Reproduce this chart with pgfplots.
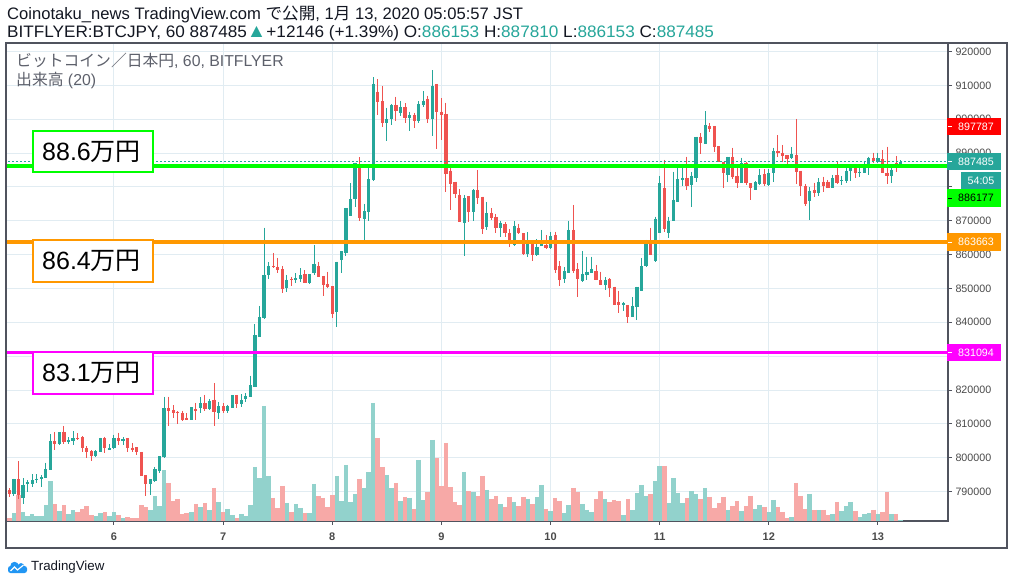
\documentclass[border=0pt]{standalone}
\usepackage{pgfplots}
\pgfplotsset{compat=1.18}
\usepackage{pgfplotstable}
\usepackage{graphicx}
\usepackage{fontspec}
\setmainfont{Liberation Sans}
\newfontfamily\jp{Noto Sans CJK JP}
\definecolor{upc}{HTML}{26A69A}
\definecolor{dnc}{HTML}{EF5350}
\definecolor{upv}{HTML}{92D2CC}
\definecolor{dnv}{HTML}{F7A9A7}
\definecolor{gridc}{HTML}{E1ECF2}
\definecolor{framec}{HTML}{50535E}
\definecolor{tickc}{HTML}{4A4A4A}
\definecolor{txt}{HTML}{131722}
\definecolor{legc}{HTML}{5D606B}
\definecolor{limeg}{HTML}{00FF00}
\definecolor{orng}{HTML}{FF9800}
\definecolor{mag}{HTML}{FF00FF}
\definecolor{redl}{HTML}{FF0000}
\definecolor{tvblue}{HTML}{2196F3}
\pgfplotstableread{
i O H L C V
0 790450 791050 788480 789170 2.7
1 789170 793800 788780 793610 7.7
2 793610 799030 787700 788980 25.7
3 788190 793900 786320 791930 8.7
4 792130 793410 789960 792720 4.7
5 792230 795180 791250 793410 6.7
6 793610 795080 792430 793810 4.7
7 793610 794790 791440 794200 4.7
8 794100 798530 793900 796560 15.7
9 796360 807000 796360 804930 39.7
10 804930 807590 802280 804150 16.7
11 804150 807490 803850 807490 9.7
12 807590 809370 803950 804740 15.7
13 804640 806020 804050 805240 6.7
14 805040 807790 803850 805820 10.7
15 805720 807300 805230 805520 8.7
16 806120 806410 801590 802970 11.7
17 802770 803460 800010 801780 14.7
18 801980 802280 799130 800600 5.7
19 800600 802280 800310 801980 4.7
20 801780 805920 801590 805820 7.7
21 805820 806220 801290 802970 8.7
22 802380 804050 802280 802870 4.7
23 802770 806810 802570 805820 8.7
24 805820 807400 803750 805040 5.7
25 805040 806020 803750 805520 2.7
26 805820 805820 801590 802970 3.7
27 802970 804250 801780 802280 2.7
28 803160 803160 800800 801590 2.7
29 801690 801690 794690 794690 15.7
30 794890 794890 788780 792230 13.7
31 792230 793610 788980 793610 10.7
32 793110 797150 792920 796660 24.7
33 796070 800500 795580 800500 14.7
34 800300 818000 799820 814590 50.7
35 814590 818030 809270 813800 38
36 814100 815480 811740 813310 20
37 813510 813800 809960 813110 22
38 813210 813900 810750 811240 7
39 811740 813210 811150 811240 8
40 811240 814890 811150 814890 9
41 814390 816170 811240 813900 17
42 814690 817840 813210 816170 14
43 816170 818530 813900 814490 18
44 814390 817350 814100 816660 11
45 817150 822070 809370 813510 33
46 813210 816460 811540 815180 19
47 815180 816070 813210 813710 9
48 813900 815670 813210 815280 12
49 814690 818530 814590 818530 6
50 818530 818530 814690 815870 3
51 815870 818720 815080 816960 7
52 817350 819020 816360 818240 5
53 818040 824240 818040 821480 16
54 820990 839500 820790 836250 54
55 835660 844820 835660 841570 43
56 841180 867960 840980 853980 115
57 853980 857820 852800 856640 45
58 856640 860480 855950 856240 23
59 856340 859000 854470 855450 13
60 855650 856640 848560 849840 35
61 850130 853980 848860 852500 18
62 852890 853480 850820 852600 9
63 852600 854470 851710 852990 17
64 852800 855950 852010 853970 13
65 854270 855450 851510 851510 8
66 851510 854270 851320 854270 8
67 854470 862840 853970 857220 37
68 856630 857910 853480 853480 25
69 853680 853680 847870 851020 23
70 851320 854960 850130 850430 14
71 850720 850720 841170 842460 26
72 843140 857920 838720 857920 45
73 858410 860970 854470 860970 20
74 860580 873770 859590 873770 56
75 871400 881060 871400 876530 19
76 876530 887160 874170 886960 27
77 886180 888730 870030 870820 42
78 870620 874950 864320 872880 33
79 872680 885680 870030 882330 49
80 882040 912370 881840 910400 118
81 908140 911780 901240 905180 83
82 905280 909810 897800 898780 54
83 898780 903410 893660 899960 46
84 899960 904490 898280 904200 33
85 904200 906660 899470 902420 38
86 901930 905380 900950 903610 20
87 903610 904690 898980 900450 24
88 900450 902230 896610 901240 23
89 901240 901930 897500 899570 12
90 899570 905280 898980 904490 61
91 904300 908230 903700 905380 21
92 905970 906950 898780 900160 29
93 900160 914530 895140 909810 81
94 910400 910400 891300 902030 63
95 902230 906260 893960 901340 35
96 901540 904880 878590 883910 78
97 884800 885480 873280 880760 34
98 881550 881550 876620 878000 19
99 877610 879280 869630 869630 16
100 869440 877610 859690 876620 49
101 877310 877310 869730 872590 30
102 872590 879280 870030 879090 29
103 879090 884990 874950 876820 25
104 877120 877120 866090 867560 45
105 868060 875540 867270 872200 31
106 872200 873670 870220 870820 22
107 871110 872000 866290 867960 25
108 867760 869930 865300 869340 17
109 869040 869630 865300 866290 14
110 866430 867460 862350 863720 24
111 862840 869930 862640 868550 19
112 867960 869140 865990 866290 15
113 866380 866380 859880 860180 24
114 860180 866580 859390 863130 22
115 863130 863130 858110 859790 17
116 859890 864520 859690 862150 24
117 862640 867270 862540 863040 36
118 862840 865790 861660 861850 12
119 861850 866580 861560 865500 10
120 865790 866780 854470 855450 23
121 856640 858110 850730 852500 20
122 852700 856240 851510 855160 8
123 854670 869930 854670 867270 16
124 867270 874660 854670 855160 33
125 855750 857420 847380 852700 29
126 852310 861070 852010 854310 17
127 854010 859400 852500 855000 11
128 854670 859400 854470 855750 9
129 855260 856930 852500 852500 22
130 852500 854960 851020 851020 30
131 851020 853290 849540 852500 22
132 852800 852990 847580 850230 19
133 850530 850530 845120 845120 21
134 846000 849350 842650 845120 20
135 845120 846100 843440 845610 6
136 845120 845120 839890 841470 22
137 841470 847380 841470 844820 11
138 844620 850530 840680 850530 28
139 849250 858900 849250 856640 36
140 856640 864320 856440 863330 25
141 863330 867960 859790 859790 27
142 858110 871210 857920 870520 40
143 866280 883220 866280 881150 55
144 879580 887950 866780 867560 55
145 866280 871210 865010 869930 18
146 869930 884500 869930 876130 43
147 875640 886180 875440 882340 28
148 882040 885490 880370 882730 18
149 882730 888930 879090 880370 23
150 880570 884500 874160 883320 30
151 882730 894840 881350 894840 27
152 894840 895830 889620 893070 22
153 892580 902420 892580 898290 33
154 897990 898780 896320 897010 24
155 897990 897990 890410 891890 13
156 892080 892080 887260 887260 18
157 887260 887260 879580 884010 24
158 883520 888930 881550 888930 11
159 888930 891590 882340 883030 15
160 883320 885490 879580 881050 20
161 881050 888640 881050 886970 10
162 887160 887460 880570 881050 15
163 881050 881050 876130 879780 25
164 879090 881750 879090 881350 12
165 880860 885290 880570 883520 16
166 883810 885290 880270 880860 14
167 880570 885290 880370 884010 9
168 884200 891590 881550 890610 21
169 890610 895330 888930 889920 14
170 890120 892380 887460 889130 9
171 889420 889420 886470 888240 3
172 888440 891690 888150 889720 4
173 889420 900060 880860 884500 38
174 884800 884800 877310 880270 25
175 880270 880860 874360 874950 12
176 875930 879870 870230 878790 27
177 879090 881250 877120 878300 11
178 878100 882530 877310 881550 11
179 881550 883030 878590 880270 11
180 881550 882040 879780 879780 6
181 879780 883520 879780 882530 7
182 883520 887460 880860 881250 19
183 881750 883220 880560 882040 10
184 881750 886180 881250 884800 15
185 884800 886470 881840 885780 19
186 885490 886180 882530 884200 10
187 884500 885780 883030 884510 4
188 884200 887750 884010 885980 7
189 885490 888930 883520 888640 8
190 888640 890120 886960 887660 11
191 887460 890120 886960 888440 7
192 888240 890900 884010 884010 9
193 884200 891890 880860 883320 29
194 883320 885780 881250 884990 7
195 886960 889130 884500 885490 7
196 886153 887810 886153 887485 1
}\data
\pgfplotsset{
  cbar/.style 2 args={draw=none, mark=none, forget plot,
    error bars/.cd, y dir=minus, y explicit, error mark=none,
    error bar style={line width=#1, draw=#2}},
}
\begin{document}
\begin{tikzpicture}
\path[use as bounding box] (0,0) rectangle (1014pt,586pt);
\fill[white] (0,0) rectangle (1014pt,586pt);
\begin{axis}[
  at={(6pt,65pt)}, anchor=south west, scale only axis,
  width=942pt, height=478pt,
  xmin=-0.748, xmax=206.4, ymin=781309, ymax=922511,
  scaled y ticks=false, scaled x ticks=false,
  axis line style={draw=framec, line width=1.5pt},
  xtick={23,47,71,95,119,143,167,191},
  xticklabels={6,7,8,9,10,11,12,13},
  ytick={790000,800000,810000,820000,830000,840000,850000,860000,870000,880000,890000,900000,910000,920000},
  yticklabels={790000,800000,810000,820000,,840000,850000,860000,870000,,890000,900000,910000,920000},
  xtick pos=bottom, ytick pos=right, yticklabel pos=right,
  tick align=outside, major tick length=4pt,
  tick style={draw=framec, line width=1pt},
  grid=major, major grid style={draw=gridc, line width=1pt},
  yticklabel style={font=\fontsize{10.7}{12}\selectfont, text=tickc},
  xticklabel style={font=\fontsize{11}{12}\selectfont\bfseries, text=tickc, yshift=-4pt},
]
% volume
\addplot[cbar={4.55pt}{upv}] table[x=i,
  y expr={\thisrow{C}>=\thisrow{O} ? 781309+\thisrow{V}*295.4 : 700000},
  y error minus expr={\thisrow{V}*295.4}] {\data};
\addplot[cbar={4.55pt}{dnv}] table[x=i,
  y expr={\thisrow{C}<\thisrow{O} ? 781309+\thisrow{V}*295.4 : 700000},
  y error minus expr={\thisrow{V}*295.4}] {\data};
% wicks
\addplot[cbar={1pt}{upc}] table[x=i,
  y expr={\thisrow{C}>=\thisrow{O} ? \thisrow{H} : 700000},
  y error minus expr={\thisrow{H}-\thisrow{L}}] {\data};
\addplot[cbar={1pt}{dnc}] table[x=i,
  y expr={\thisrow{C}<\thisrow{O} ? \thisrow{H} : 700000},
  y error minus expr={\thisrow{H}-\thisrow{L}}] {\data};
% bodies
\addplot[cbar={3.2pt}{upc}] table[x=i,
  y expr={\thisrow{C}>=\thisrow{O} ? \thisrow{C} : 700000},
  y error minus expr={max(\thisrow{C}-\thisrow{O},300)}] {\data};
\addplot[cbar={3.2pt}{dnc}] table[x=i,
  y expr={\thisrow{C}<\thisrow{O} ? \thisrow{O} : 700000},
  y error minus expr={max(\thisrow{O}-\thisrow{C},300)}] {\data};
% horizontal levels
\addplot[limeg, line width=3.5pt, forget plot] coordinates {(-2,886177) (210,886177)};
\addplot[orng, line width=3.5pt, forget plot] coordinates {(-2,863663) (210,863663)};
\addplot[mag, line width=3.5pt, forget plot] coordinates {(-2,831094) (210,831094)};
\addplot[upc, line width=0.8pt, dash pattern=on 2pt off 2pt, forget plot] coordinates {(-2,887485) (210,887485)};
\end{axis}
\draw[framec, line width=1.5pt] (6pt,38pt) rectangle (1007pt,543pt);
% header
\node[anchor=base west, inner sep=0pt, font=\fontsize{16.6}{18}\selectfont, text=txt] at (7pt,566pt)
  {Coinotaku\_news TradingView.com {\jp で公開}, 1{\jp 月} 13, 2020 05:05:57 JST};
\node[anchor=base west, inner sep=0pt, font=\fontsize{16.6}{18}\selectfont, text=txt] at (7pt,548pt)
  {\scalebox{1.034}[1]{BITFLYER:BTCJPY, 60 887485\textcolor{upc}{\fontsize{19}{19}\selectfont ▲}+12146 (+1.39\%) O:\textcolor{upc}{886153} H:\textcolor{upc}{887810} L:\textcolor{upc}{886153} C:\textcolor{upc}{887485}}};
% legend in chart
\node[anchor=base west, inner sep=0pt, font=\fontsize{15.8}{17}\selectfont, text=legc] at (16pt,519pt)
  {{\jp ビットコイン／日本円}, 60, BITFLYER};
\node[anchor=base west, inner sep=0pt, font=\fontsize{15.8}{17}\selectfont, text=legc] at (16pt,500pt)
  {{\jp 出来高} (20)};
% boxes
\draw[limeg, line width=1.5pt, fill=white] (33pt,414pt) rectangle (153pt,455pt);
\node[anchor=west, inner sep=0pt, font=\fontsize{25}{26}\selectfont, text=black] at (42pt,434.5pt) {88.6{\jp 万円}};
\draw[orng, line width=1.5pt, fill=white] (33pt,304pt) rectangle (153pt,346pt);
\node[anchor=west, inner sep=0pt, font=\fontsize{25}{26}\selectfont, text=black] at (42pt,325pt) {86.4{\jp 万円}};
\draw[mag, line width=1.5pt, fill=white] (33pt,192pt) rectangle (153pt,234pt);
\node[anchor=west, inner sep=0pt, font=\fontsize{25}{26}\selectfont, text=black] at (42pt,213pt) {83.1{\jp 万円}};
% right price labels
\fill[redl] (947pt,450.5pt) rectangle (1001pt,468.1pt);
\node[text=white, font=\fontsize{10.7}{12}\selectfont, inner sep=0pt] at (976pt,459.3pt) {897787};
\fill[upc] (947pt,415.6pt) rectangle (1001pt,433.2pt);
\node[text=white, font=\fontsize{10.7}{12}\selectfont, inner sep=0pt] at (976pt,424.4pt) {887485};
\fill[upc] (961pt,396.7pt) rectangle (1001pt,414.3pt);
\node[text=white, font=\fontsize{10.7}{12}\selectfont, inner sep=0pt] at (981pt,405.5pt) {54:05};
\fill[limeg] (947pt,378.9pt) rectangle (1001pt,396.5pt);
\node[text=black, font=\fontsize{10.7}{12}\selectfont, inner sep=0pt] at (976pt,387.7pt) {886177};
\fill[orng] (947pt,335pt) rectangle (1001pt,352.6pt);
\node[text=white, font=\fontsize{10.7}{12}\selectfont, inner sep=0pt] at (976pt,343.8pt) {863663};
\fill[mag] (947pt,224.7pt) rectangle (1001pt,242.3pt);
\node[text=white, font=\fontsize{10.7}{12}\selectfont, inner sep=0pt] at (976pt,233.5pt) {831094};
\foreach \yy in {459.3,424.4,343.8,233.5} {\draw[white, line width=1pt] (948pt,\yy pt) -- (952pt,\yy pt);}
\draw[black, line width=1pt] (948pt,387.7pt) -- (952pt,387.7pt);
% footer
\fill[tvblue, rounded corners=2.5pt] (8pt,13pt) rectangle (27pt,20pt);
\fill[tvblue] (14.5pt,20pt) circle (4.2pt);
\fill[tvblue] (21pt,19.5pt) circle (3.4pt);
\draw[white, line width=1.1pt] (10.5pt,15pt) -- (14.5pt,19pt) -- (17.5pt,16pt) -- (23.5pt,21pt);
\node[anchor=west, inner sep=0pt, font=\fontsize{13.3}{14}\selectfont, text=txt] at (31pt,19pt) {TradingView};
\end{tikzpicture}
\end{document}
